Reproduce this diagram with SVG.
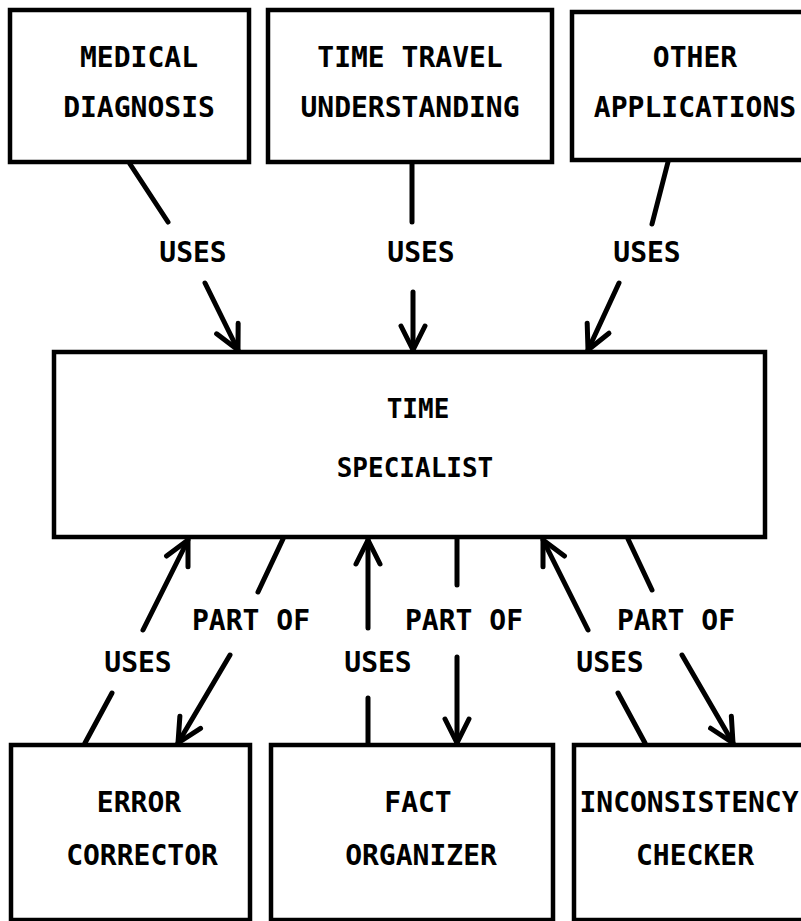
<svg xmlns="http://www.w3.org/2000/svg" width="801" height="921" viewBox="0 0 801 921">
<defs>
<style>
.box{fill:#fff;stroke:#000;stroke-width:4.5}
.t{font-family:"DejaVu Sans Mono","Liberation Mono",monospace;font-weight:bold;font-size:28px;fill:#000;text-anchor:middle}
.tm{font-size:26px}
.c{stroke:#000;stroke-width:5;fill:none;stroke-linecap:round}
.a{marker-end:url(#ah)}
</style>
<marker id="ah" markerUnits="userSpaceOnUse" viewBox="-30 -16 34 32" refX="0" refY="0" markerWidth="34" markerHeight="32" orient="auto">
<path d="M-24,-12 L0,0 L-24,12" fill="none" stroke="#000" stroke-width="5" stroke-linecap="round" stroke-linejoin="round"/>
</marker>
</defs>
<rect width="801" height="921" fill="#fff"/>
<g id="medical">
<rect class="box" x="10" y="10" width="239" height="152"/>
<text class="t" x="139" y="67">MEDICAL</text>
<text class="t" x="139" y="117">DIAGNOSIS</text>
</g>
<g id="timetravel">
<rect class="box" x="268" y="10" width="284" height="152"/>
<text class="t" x="410" y="67">TIME TRAVEL</text>
<text class="t" x="410" y="117">UNDERSTANDING</text>
</g>
<g id="other">
<rect class="box" x="572" y="12" width="240" height="148"/>
<text class="t" x="695" y="67">OTHER</text>
<text class="t" x="695" y="117">APPLICATIONS</text>
</g>
<g id="specialist">
<rect class="box" x="54" y="352" width="711" height="185"/>
<text class="t tm" x="418" y="418">TIME</text>
<text class="t tm" x="415" y="477">SPECIALIST</text>
</g>
<g id="error">
<rect class="box" x="11" y="745" width="239" height="175"/>
<text class="t" x="139" y="812">ERROR</text>
<text class="t" x="142" y="865">CORRECTOR</text>
</g>
<g id="fact">
<rect class="box" x="271" y="745" width="282" height="175"/>
<text class="t" x="418" y="812">FACT</text>
<text class="t" x="421" y="865">ORGANIZER</text>
</g>
<g id="inconsistency">
<rect class="box" x="574" y="745" width="240" height="175"/>
<text class="t" x="689" y="812">INCONSISTENCY</text>
<text class="t" x="695" y="865">CHECKER</text>
</g>
<g id="connectors">
<line class="c" x1="130" y1="164" x2="168" y2="222"/>
<line class="c a" x1="205" y1="283" x2="238" y2="350"/>
<line class="c" x1="412" y1="164" x2="412" y2="222"/>
<line class="c a" x1="413" y1="292" x2="413" y2="350"/>
<line class="c" x1="668" y1="162" x2="652" y2="224"/>
<line class="c a" x1="619" y1="283" x2="588" y2="350"/>
<line class="c" x1="85" y1="743" x2="112" y2="693"/>
<line class="c a" x1="143" y1="630" x2="188" y2="540"/>
<line class="c" x1="283" y1="539" x2="258" y2="592"/>
<line class="c a" x1="230" y1="655" x2="178" y2="743"/>
<line class="c" x1="368" y1="743" x2="368" y2="698"/>
<line class="c a" x1="368" y1="628" x2="368" y2="540"/>
<line class="c" x1="457" y1="539" x2="457" y2="585"/>
<line class="c a" x1="457" y1="657" x2="457" y2="743"/>
<line class="c" x1="645" y1="743" x2="618" y2="693"/>
<line class="c a" x1="588" y1="630" x2="543" y2="540"/>
<line class="c" x1="628" y1="539" x2="652" y2="590"/>
<line class="c a" x1="682" y1="655" x2="733" y2="743"/>
<text class="t" x="193" y="262">USES</text>
<text class="t" x="421" y="262">USES</text>
<text class="t" x="647" y="262">USES</text>
<text class="t" x="138" y="672">USES</text>
<text class="t" x="378" y="672">USES</text>
<text class="t" x="610" y="672">USES</text>
<text class="t" x="251" y="630">PART OF</text>
<text class="t" x="464" y="630">PART OF</text>
<text class="t" x="676" y="630">PART OF</text>
</g>
</svg>
